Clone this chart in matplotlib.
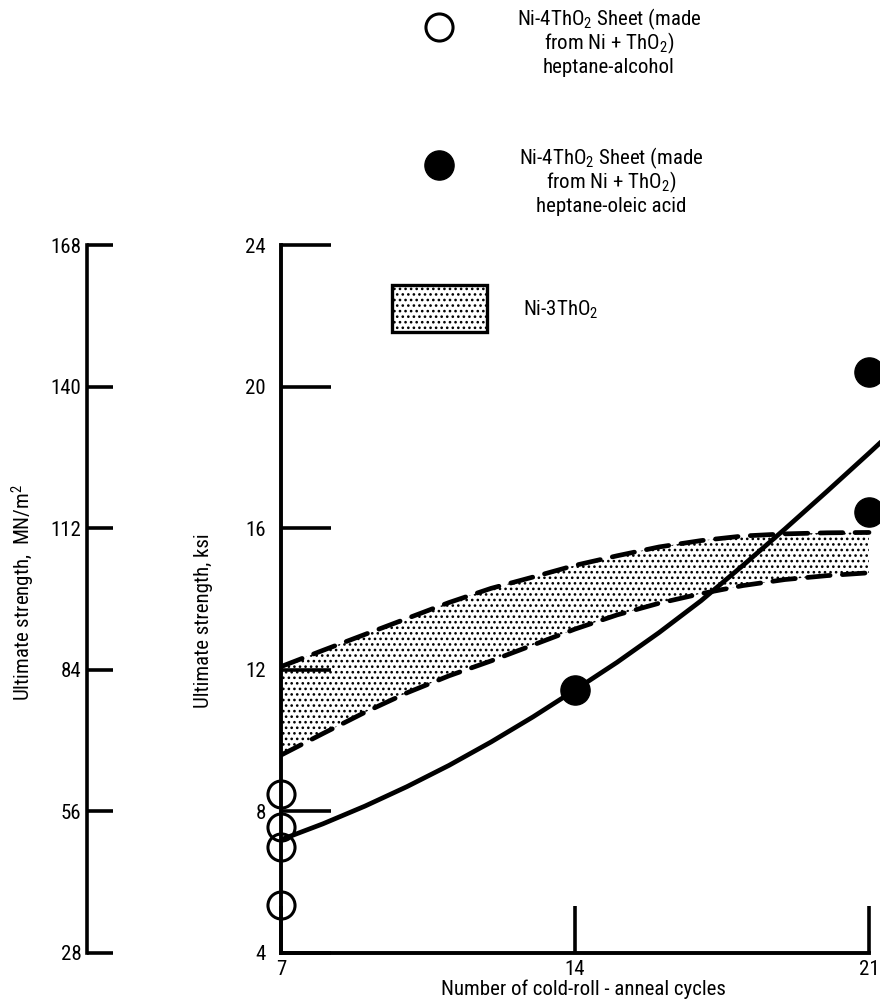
import matplotlib
matplotlib.use("Agg")
import matplotlib.pyplot as plt
from matplotlib import font_manager as fm
from matplotlib.patches import Rectangle
from matplotlib.lines import Line2D

# ---------------- data ----------------
open_x = [7, 7, 7, 7]
open_y = [8.5, 7.55, 7.0, 5.35]          # Ni-4ThO2, heptane-alcohol (ksi)

filled_x = [14, 21, 21]
filled_y = [11.43, 20.4, 16.45]          # Ni-4ThO2, heptane-oleic acid (ksi)

curve_x = [7, 8, 9, 10, 11, 12, 13, 14, 15, 16, 17, 18, 19, 20, 21, 21.3]
curve_y = [7.2, 7.65, 8.15, 8.7, 9.3, 9.96, 10.67, 11.43, 12.21, 13.05, 13.95,
           14.95, 15.98, 17.04, 18.12, 18.45]

band_x = [7, 8, 9, 10, 11, 12, 13, 14, 15, 16, 17, 18, 19, 20, 21]
band_upper = [12.09, 12.55, 13.0, 13.45, 13.9, 14.3, 14.62, 14.95, 15.22,
              15.47, 15.65, 15.78, 15.84, 15.87, 15.88]
band_lower = [9.59, 10.2, 10.8, 11.35, 11.83, 12.25, 12.7, 13.15, 13.55,
              13.88, 14.15, 14.38, 14.55, 14.66, 14.74]

ksi_ticks = [4, 8, 12, 16, 20, 24]
mn_ticks = [28, 56, 84, 112, 140, 168]
cycle_ticks = [7, 14, 21]

# ---------------- fonts ----------------
names = {f.name for f in fm.fontManager.ttflist}
FONT = "DejaVu Sans"
for cand in ["Liberation Sans Narrow", "DejaVu Sans Condensed", "Roboto Condensed",
             "Open Sans Condensed", "Liberation Sans"]:
    if cand in names:
        FONT = cand
        break
plt.rcParams["font.family"] = [FONT, "DejaVu Sans"]
plt.rcParams["mathtext.fontset"] = "custom"
plt.rcParams["mathtext.rm"] = FONT
plt.rcParams["mathtext.it"] = FONT
plt.rcParams["mathtext.bf"] = FONT
plt.rcParams["hatch.linewidth"] = 1.1

FS = 15
W, H = 880, 1006
fig = plt.figure(figsize=(W / 100, H / 100), dpi=100)

# main axes geometry (pixels)
x0, x1 = 281, 880
y_bot, y_top = 953, 245
px_per_cycle = 42.0
ax = fig.add_axes([x0 / W, (H - y_bot) / H, (x1 - x0) / W, (y_bot - y_top) / H])
ax.set_xlim(7, 7 + (x1 - x0) / px_per_cycle)
ax.set_ylim(4, 24)
ax.patch.set_visible(False)
for s in ("top", "right"):
    ax.spines[s].set_visible(False)
ax.spines["left"].set_linewidth(2.8)
ax.spines["bottom"].set_linewidth(2.8)
ax.spines["bottom"].set_bounds(7, 21)
ax.set_yticks(ksi_ticks)
ax.set_yticklabels([str(t) for t in ksi_ticks])
ax.set_xticks(cycle_ticks)
ax.set_xticklabels([str(t) for t in cycle_ticks])
ax.tick_params(axis="y", direction="in", length=36, width=2.6, pad=11, labelsize=FS)
ax.tick_params(axis="x", direction="in", length=34, width=2.6, pad=5, labelsize=FS)

# band
ax.fill_between(band_x, band_lower, band_upper, facecolor="white", edgecolor="black",
                hatch="...", linewidth=0, zorder=1)
ax.plot(band_x, band_upper, color="black", lw=3.4, dashes=(4.8, 2.6),
        dash_capstyle="round", zorder=2)
ax.plot(band_x, band_lower, color="black", lw=3.4, dashes=(4.8, 2.6),
        dash_capstyle="round", zorder=2)

# solid curve
ax.plot(curve_x, curve_y, color="black", lw=3.4, solid_capstyle="round",
        solid_joinstyle="round", zorder=3)

# points
ax.plot(open_x, open_y, linestyle="none", marker="o", ms=19.5, mfc="none",
        mec="black", mew=2.2, clip_on=False, zorder=4)
ax.plot(filled_x, filled_y, linestyle="none", marker="o", ms=21, mfc="black",
        mec="black", clip_on=False, zorder=4)

# left (MN/m^2) axis
ax2 = fig.add_axes([87 / W, (H - y_bot) / H, 0.05, (y_bot - y_top) / H])
ax2.set_ylim(28, 168)
ax2.patch.set_visible(False)
for s in ("top", "right", "bottom"):
    ax2.spines[s].set_visible(False)
ax2.spines["left"].set_linewidth(2.6)
ax2.set_xticks([])
ax2.set_yticks(mn_ticks)
ax2.set_yticklabels([str(t) for t in mn_ticks])
ax2.tick_params(axis="y", direction="in", length=19, width=2.6, pad=4, labelsize=FS)

# axis labels
fig.text(23.5 / W, 1 - 592 / H, r"Ultimate strength,  MN/m$^2$", rotation=90,
         ha="center", va="center", fontsize=FS)
fig.text(203.5 / W, 1 - 621 / H, "Ultimate strength, ksi", rotation=90,
         ha="center", va="center", fontsize=FS)
fig.text(583 / W, 1 - 989 / H, "Number of cold-roll - anneal cycles",
         ha="center", va="center", fontsize=FS)

# legend (manual layout)
lg = fig.add_axes([0, 0, 1, 1])
lg.set_xlim(0, W)
lg.set_ylim(H, 0)
lg.axis("off")
lg.patch.set_visible(False)
lg.add_line(Line2D([439], [27], linestyle="none", marker="o", ms=19.5, mfc="none",
                   mec="black", mew=2.2))
lg.add_line(Line2D([439], [165], linestyle="none", marker="o", ms=21, mfc="black",
                   mec="black"))
lg.add_patch(Rectangle((392, 285), 95, 47, facecolor="white", edgecolor="black",
                       hatch="...", linewidth=2.4))

block1 = [r"Ni-4ThO$_2$ Sheet (made", r"from Ni + ThO$_2$)", "heptane-alcohol"]
block2 = [r"Ni-4ThO$_2$ Sheet (made", r"from Ni + ThO$_2$)", "heptane-oleic acid"]
for i, t in enumerate(block1):
    lg.text(609, 25 + 24 * i, t, ha="center", va="baseline", fontsize=FS)
for i, t in enumerate(block2):
    lg.text(611, 164 + 24 * i, t, ha="center", va="baseline", fontsize=FS)
lg.text(523, 316, r"Ni-3ThO$_2$", ha="left", va="baseline", fontsize=FS)

fig.savefig("out.png", dpi=100)
